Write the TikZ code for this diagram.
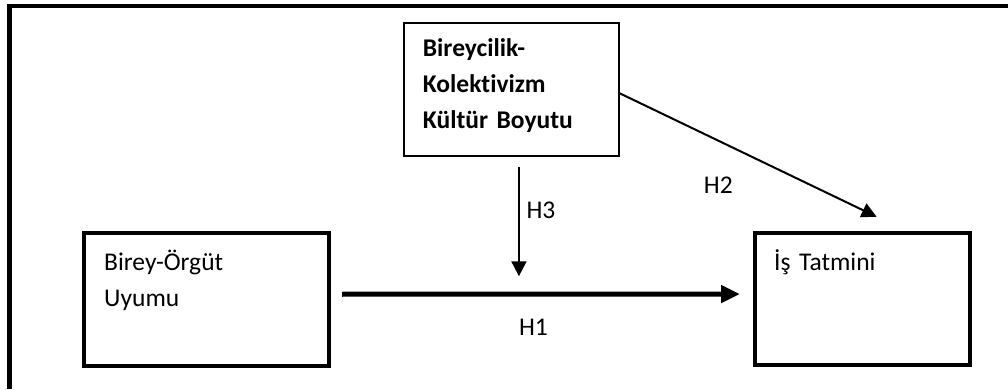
\documentclass[tikz,border=0pt]{standalone}
\usepackage{fontspec}
\setmainfont{Carlito}[Ligatures=NoCommon]
\usetikzlibrary{arrows.meta,positioning}

\begin{document}
\begin{tikzpicture}[x=1pt,y=-1pt]
\tikzset{
  factor/.style    = {shape=rectangle, draw, line width=4pt,
                      outer sep=0pt, inner sep=0pt, anchor=north west},
  moderator/.style = {factor, line width=1.8pt},
  factortext/.style = {anchor=base west, inner sep=0pt,
                      text width=200pt, align=left,
                      font=\fontsize{25.5}{36}\selectfont},
  hyp/.style       = {inner sep=0pt, font=\fontsize{25.5}{28}\selectfont},
  mainpath/.style  = {line width=5pt, -{Triangle[length=19pt,width=17pt]}},
  sidepath/.style  = {line width=2pt, -{Triangle[length=15pt,width=15pt]}}
}
\useasboundingbox (0,0) rectangle (1008,389);
% frame
\draw[line width=4.5pt] (9.7,389) -- (9.7,6) -- (1008,6);
% boxes
\node[moderator, minimum width=215.3pt, minimum height=132.7pt] (kultur) at (403.7,23) {};
\node[factor, minimum width=245pt, minimum height=132.5pt] (uyum) at (84,233) {};
\node[factor, minimum width=214.5pt, minimum height=132pt] (tatmin) at (755,233) {};
\node[factortext, font=\fontsize{25.5}{36}\selectfont\bfseries] (kulturtext)
  at ([shift={(19,33.7)}]kultur.north west) {Bireycilik-\\Kolektivizm\\Kültür Boyutu};
\node[factortext] (uyumtext) at ([shift={(20,37.7)}]uyum.north west) {Birey-Örgüt\\Uyumu};
\node[factortext] (tatmintext) at ([shift={(19,37)}]tatmin.north west) {İş Tatmini};
% hypotheses
\draw[mainpath, shorten <=13pt, shorten >=15pt]
  ([yshift=5pt]uyum.east) -- ([yshift=5pt]tatmin.west)
  node[hyp, pos=0.48, yshift=-33pt] {H1};
\draw[sidepath, shorten >=37.5pt]
  ([yshift=-3.6pt]kultur.east) -- ([xshift=48.2pt]tatmin.north)
  node[hyp, pos=0.341, yshift=-44.5pt] {H2};
\draw[sidepath, shorten <=11.6pt, shorten >=23pt]
  ([xshift=7.6pt]kultur.south) -- ([xshift=7.6pt]kultur.south |- uyum.east)
  node[hyp, pos=0.379, xshift=22pt] {H3};
\end{tikzpicture}
\end{document}
